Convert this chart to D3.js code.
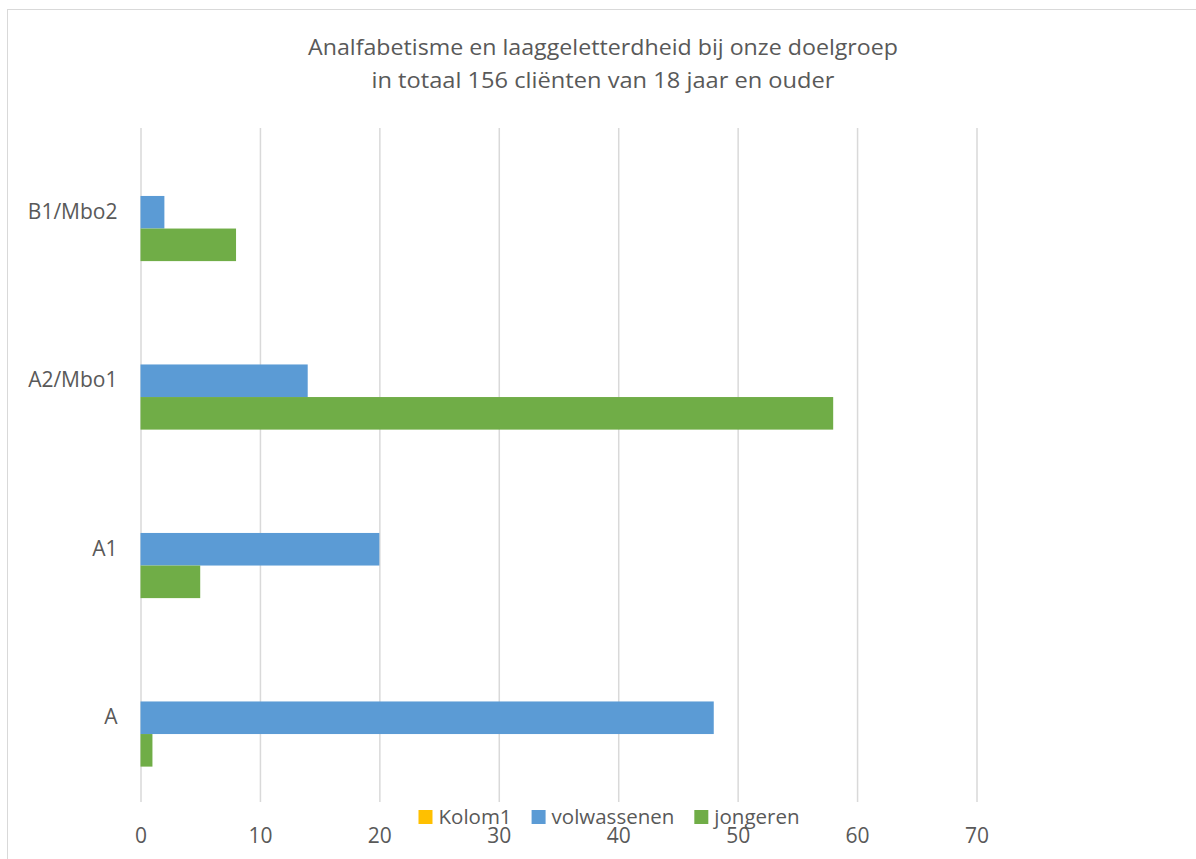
<!DOCTYPE html>
<html>
<head>
<meta charset="utf-8">
<script src="https://cdn.jsdelivr.net/npm/d3@7"></script>
<style>
  html, body { margin: 0; padding: 0; background: #fff; }
  svg { display: block; font-family: 'Open Sans', sans-serif; }
</style>
</head>
<body>
<div class="bar-chart"></div>
<script>
const categories = ['A', 'A1', 'A2/Mbo1', 'B1/Mbo2']
const seriesNames = ['Kolom1', 'volwassenen', 'jongeren']
const kolom1 = [0, 0, 0, 0]
const volwassenen = [48, 20, 14, 2]
const jongeren = [1, 5, 58, 8]
const xTicks = [0, 10, 20, 30, 40, 50, 60, 70]
const titleLines = [
  'Analfabetisme en laaggeletterdheid bij onze doelgroep',
  'in totaal 156 cliënten van 18 jaar en ouder',
]
const colors = ['#FFC000', '#5B9BD5', '#70AD47']

const width = 1196
const height = 859
const plot = { left: 140.5, right: 976.5, top: 128, bottom: 802 }
const textColor = '#595959'

const rows = categories.map((c, i) => ({
  category: c,
  Kolom1: kolom1[i],
  volwassenen: volwassenen[i],
  jongeren: jongeren[i],
}))

const svg = d3
  .select('.bar-chart')
  .append('svg')
  .attr('width', width)
  .attr('height', height)

// chart frame
svg
  .append('rect')
  .attr('x', 7.5)
  .attr('y', 9.5)
  .attr('width', width + 20)
  .attr('height', height + 20)
  .attr('fill', '#fff')
  .attr('stroke', '#d9d9d9')
  .attr('stroke-width', 1)

const x = d3
  .scaleLinear()
  .domain([0, 70])
  .range([plot.left, plot.right])

const y = d3
  .scaleBand()
  .domain(categories.slice().reverse())
  .range([plot.top, plot.bottom])
  .paddingInner(0.42)
  .paddingOuter(0.21)

const ySub = d3
  .scaleBand()
  .domain(seriesNames)
  .range([0, y.bandwidth()])

const color = d3.scaleOrdinal().domain(seriesNames).range(colors)

// gridlines
svg
  .append('g')
  .attr('class', 'grid')
  .attr('transform', `translate(0,${plot.bottom})`)
  .call(d3.axisBottom(x).tickValues(xTicks).tickSize(-(plot.bottom - plot.top)).tickFormat(''))
  .call(g => g.select('.domain').remove())
  .call(g => g.selectAll('line').attr('stroke', '#d9d9d9').attr('stroke-width', 1.5))

// bars
svg
  .append('g')
  .selectAll('g')
  .data(rows)
  .enter()
  .append('g')
  .attr('transform', d => `translate(0,${y(d.category)})`)
  .selectAll('rect')
  .data(d => seriesNames.map(key => ({ key, value: d[key] })))
  .enter()
  .append('rect')
  .attr('x', x(0))
  .attr('y', d => ySub(d.key))
  .attr('width', d => x(d.value) - x(0))
  .attr('height', ySub.bandwidth())
  .attr('fill', d => color(d.key))

// x tick labels
svg
  .append('g')
  .attr('transform', `translate(0,${plot.bottom})`)
  .call(d3.axisBottom(x).tickValues(xTicks).tickSize(0).tickPadding(26))
  .call(g => g.select('.domain').remove())
  .call(g =>
    g
      .selectAll('text')
      .attr('fill', textColor)
      .style('font-size', '21px')
      .style('font-family', "'Open Sans', sans-serif")
  )

// category labels
svg
  .append('g')
  .attr('transform', `translate(${plot.left},0)`)
  .call(d3.axisLeft(y).tickSize(0).tickPadding(23))
  .call(g => g.select('.domain').remove())
  .call(g =>
    g
      .selectAll('text')
      .attr('fill', textColor)
      .style('font-size', '21px')
      .style('font-family', "'Open Sans', sans-serif")
  )

// title
const titleWidths = [590, 463]
svg
  .append('g')
  .selectAll('text')
  .data(titleLines)
  .enter()
  .append('text')
  .attr('x', 603)
  .attr('y', (d, i) => 55 + i * 33)
  .attr('text-anchor', 'middle')
  .attr('fill', textColor)
  .attr('textLength', (d, i) => titleWidths[i])
  .attr('lengthAdjust', 'spacingAndGlyphs')
  .style('font-size', '22px')
  .text(d => d)

// legend
const legend = svg.append('g').attr('transform', 'translate(0,817)')
const items = legend
  .selectAll('g')
  .data(seriesNames)
  .enter()
  .append('g')

items
  .append('rect')
  .attr('y', -7)
  .attr('width', 14)
  .attr('height', 14)
  .attr('fill', d => color(d))

items
  .append('text')
  .attr('x', 20)
  .attr('dy', '0.35em')
  .attr('fill', textColor)
  .style('font-size', '20.5px')
  .text(d => d)

let offset = 0
const widths = []
items.each(function () {
  widths.push(this.getBBox().width)
})
const total = d3.sum(widths) + 20 * (widths.length - 1)
offset = 609 - total / 2
items.attr('transform', (d, i) => {
  const tx = offset
  offset += widths[i] + 20
  return `translate(${tx},0)`
})
</script>
</body>
</html>
